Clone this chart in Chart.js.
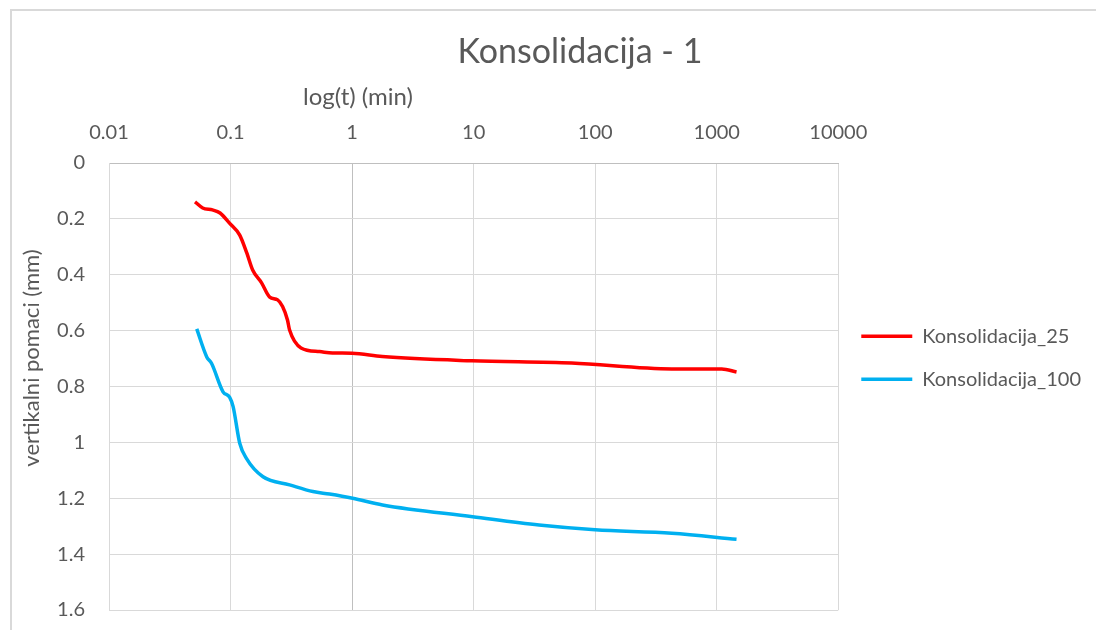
<!DOCTYPE html>
<html><head><meta charset="utf-8">
<script src="https://cdn.jsdelivr.net/npm/chart.js@4.4.1/dist/chart.umd.min.js"></script>
<style>html,body{margin:0;padding:0;background:#fff;} #wrap{width:1096px;height:630px;position:relative;}</style>
</head><body><div id="wrap"><canvas id="c" width="1096" height="630"></canvas></div>
<script>
const chartTitle = 'Konsolidacija - 1';
const xAxisTitle = 'log(t) (min)';
const yAxisTitle = 'vertikalni pomaci (mm)';
const seriesNames = ['Konsolidacija_25', 'Konsolidacija_100'];
const seriesColors = ['#ff0000', '#00b0f0'];
const xTicks = [0.01, 0.1, 1, 10, 100, 1000, 10000];
const yTicks = [0, 0.2, 0.4, 0.6, 0.8, 1, 1.2, 1.4, 1.6];

const t25 = [0.051, 0.059, 0.071, 0.082, 0.098, 0.119, 0.136, 0.152, 0.180, 0.210, 0.244, 0.268, 0.294, 0.306, 0.38, 0.54, 0.69, 1.0, 1.77, 9.7, 64, 427, 1100, 1455];
const d25 = [0.139, 0.161, 0.168, 0.179, 0.215, 0.258, 0.322, 0.383, 0.429, 0.480, 0.490, 0.514, 0.562, 0.598, 0.662, 0.675, 0.680, 0.681, 0.693, 0.708, 0.716, 0.737, 0.737, 0.748];

const t100 = [0.0527, 0.0637, 0.0697, 0.0867, 0.0984, 0.105, 0.119, 0.135, 0.185, 0.306, 0.476, 0.652, 1.01, 1.78, 9.8, 34.5, 100, 427, 1455];
const d100 = [0.594, 0.694, 0.717, 0.819, 0.839, 0.872, 1.003, 1.057, 1.123, 1.152, 1.176, 1.185, 1.200, 1.224, 1.266, 1.296, 1.313, 1.325, 1.347];

const FONT = 'Lato';
const TEXT = '#595959';
const NONE = 'rgba(0,0,0,0)';

const decor = {
  id: 'decor',
  beforeDraw(chart) {
    const c = chart.ctx;
    c.save();
    c.fillStyle = '#ffffff';
    c.fillRect(0, 0, chart.width, chart.height);
    c.strokeStyle = '#d9d9d9';
    c.lineWidth = 2;
    c.strokeRect(11, 10, chart.width + 40, chart.height + 40);
    c.restore();
  },
  afterDraw(chart) {
    const c = chart.ctx;
    c.save();
    c.fillStyle = TEXT;
    c.textAlign = 'center';
    c.textBaseline = 'alphabetic';
    c.font = '34px ' + FONT;
    c.fillText(chartTitle, 580, 63);
    c.textBaseline = 'middle';
    c.font = '24px ' + FONT;
    c.fillText(xAxisTitle, 358, 97);
    c.translate(32, 358);
    c.rotate(-Math.PI / 2);
    c.font = '22px ' + FONT;
    c.fillText(yAxisTitle, 0, 0);
    c.restore();
  }
};

const mk = (t, d) => t.map((x, i) => ({ x: x, y: d[i] }));

new Chart(document.getElementById('c'), {
  type: 'line',
  data: {
    datasets: [
      { label: seriesNames[0], data: mk(t25, d25), borderColor: seriesColors[0], backgroundColor: seriesColors[0], borderWidth: 3.5, pointRadius: 0, fill: false, cubicInterpolationMode: 'monotone' },
      { label: seriesNames[1], data: mk(t100, d100), borderColor: seriesColors[1], backgroundColor: seriesColors[1], borderWidth: 3.5, pointRadius: 0, fill: false, cubicInterpolationMode: 'monotone' }
    ]
  },
  options: {
    responsive: false,
    animation: false,
    layout: { padding: { top: 0, left: 0, right: 5, bottom: 20 } },
    plugins: {
      title: { display: false },
      tooltip: { enabled: false },
      legend: {
        position: 'right',
        align: 'start',
        fullSize: true,
        maxWidth: 256,
        title: { display: true, text: '', font: { size: 1 }, padding: { top: 302, bottom: 0 } },
        labels: { boxWidth: 51, boxHeight: 0, padding: 23, color: TEXT, font: { family: FONT, size: 20 } }
      }
    },
    scales: {
      x: {
        type: 'logarithmic',
        position: 'top',
        min: 0.01,
        max: 10000,
        afterBuildTicks: s => { s.ticks = xTicks.map(v => ({ value: v })); },
        afterFit: s => { s.height = 163; },
        ticks: { padding: 0, maxRotation: 0, autoSkip: false, color: TEXT, font: { family: FONT, size: 20 }, callback: v => String(v) },
        grid: { color: c => (c.tick && c.tick.value === 1) ? '#bfbfbf' : '#d9d9d9', lineWidth: 1, drawTicks: true, tickLength: 18, tickColor: NONE },
        border: { display: true, color: '#bfbfbf', width: 1 }
      },
      y: {
        type: 'linear',
        reverse: true,
        min: 0,
        max: 1.6,
        afterBuildTicks: s => { s.ticks = yTicks.map(v => ({ value: v })); },
        afterFit: s => { s.width = 109; },
        ticks: { padding: 0, color: TEXT, font: { family: FONT, size: 20 }, callback: v => String(v) },
        grid: { color: c => (c.tick && c.tick.value === 0) ? '#bfbfbf' : '#d9d9d9', lineWidth: 1, drawTicks: true, tickLength: 24, tickColor: NONE },
        border: { display: true, color: '#d9d9d9', width: 1 }
      }
    }
  },
  plugins: [decor]
});
</script></body></html>
